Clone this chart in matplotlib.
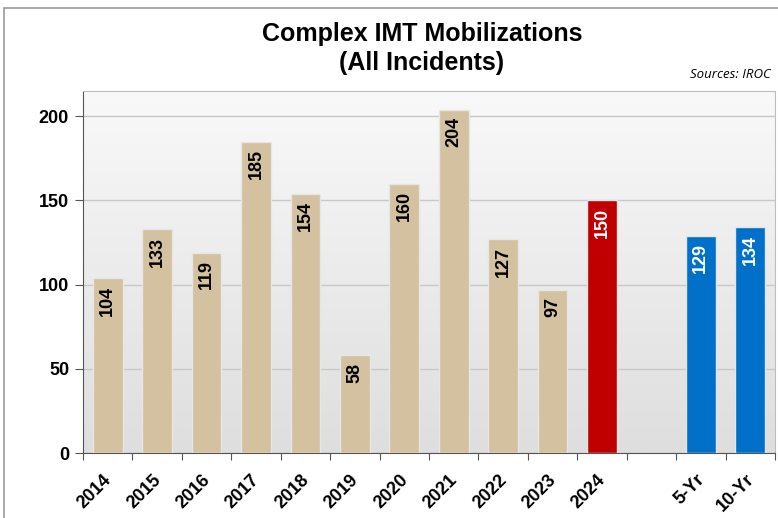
import numpy as np
import matplotlib
matplotlib.use("Agg")
import matplotlib.pyplot as plt
from matplotlib.patches import Rectangle
from matplotlib.transforms import ScaledTranslation

plt.rcParams['font.family'] = ['Liberation Sans', 'DejaVu Sans']

# chart data
labels = ['2014', '2015', '2016', '2017', '2018', '2019', '2020', '2021',
          '2022', '2023', '2024', '', '5-Yr', '10-Yr']
values = [104, 133, 119, 185, 154, 58, 160, 204, 127, 97, 150, None, 129, 134]
kinds = ['year'] * 10 + ['current', 'gap', 'avg', 'avg']

colors = {'year': '#D3C1A0', 'current': '#C00000', 'avg': '#0070C8'}
txtcol = {'year': 'black', 'current': 'white', 'avg': 'white'}

fig = plt.figure(figsize=(7.78, 5.18), dpi=100)
fig.patch.set_facecolor('white')

# outer frame of the chart object (clipped at right / bottom like the source)
fig.patches.append(Rectangle((4 / 778, -0.1), 1.2, 1 - 8 / 518 + 0.1,
                             transform=fig.transFigure, fill=False,
                             edgecolor='#9a9a9a', linewidth=1.2))

ax = fig.add_axes([83 / 778, 1 - 453 / 518, 692 / 778, 362 / 518])
n = len(labels)
ax.set_xlim(-0.5, n - 0.5)
ax.set_ylim(0, 215)

# gradient background
grad = np.linspace(0, 1, 256).reshape(-1, 1)
ax.imshow(grad, extent=(-0.5, n - 0.5, 0, 215), aspect='auto', origin='upper',
          cmap=matplotlib.colors.LinearSegmentedColormap.from_list(
              'bg', ['#f9f9f9', '#dedede']), zorder=0)

ax.set_yticks([0, 50, 100, 150, 200])
ax.yaxis.grid(True, color='#c8c8c8', linewidth=1)
ax.set_axisbelow(True)

for i, (v, k) in enumerate(zip(values, kinds)):
    if v is None:
        continue
    ax.bar(i, v, width=0.6, color=colors[k], edgecolor='#e6e6e6',
           linewidth=1, zorder=3)
    ax.text(i, v - 4.5, str(v), rotation=90, ha='center', va='top',
            fontsize=13, fontweight='bold', color=txtcol[k], zorder=4)

# tick marks between categories, labels under the bars
ax.set_xticks(np.arange(n + 1) - 0.5)
ax.set_xticklabels([])
ax.set_xticks(np.arange(n), minor=True)
ax.set_xticklabels(labels, minor=True, rotation=45, ha='right',
                   rotation_mode='anchor', fontsize=13, fontweight='bold')
ax.tick_params(axis='x', which='minor', length=0, pad=13)
ax.tick_params(axis='x', which='major', length=5, color='#555555')
shift = ScaledTranslation(-5 / 100, 0, fig.dpi_scale_trans)
for lab in ax.get_xticklabels(minor=True):
    lab.set_transform(lab.get_transform() + shift)
ax.tick_params(axis='y', length=6, color='#555555', labelsize=13, pad=4)
for lab in ax.get_yticklabels():
    lab.set_fontweight('bold')

for s in ['top', 'right']:
    ax.spines[s].set_color('#bdbdbd')
for s in ['left', 'bottom']:
    ax.spines[s].set_color('#555555')

fig.text(422 / 778, 1 - 34 / 518, 'Complex IMT Mobilizations', ha='center',
         va='center', fontsize=18, fontweight='bold')
fig.text(422 / 778, 1 - 63 / 518, '(All Incidents)', ha='center',
         va='center', fontsize=18, fontweight='bold')
fig.text(771 / 778, 1 - 75 / 518, 'Sources: IROC', ha='right', va='center',
         fontsize=9.5, style='italic', family=['Open Sans', 'DejaVu Sans'])

fig.savefig('out.png', dpi=100)
